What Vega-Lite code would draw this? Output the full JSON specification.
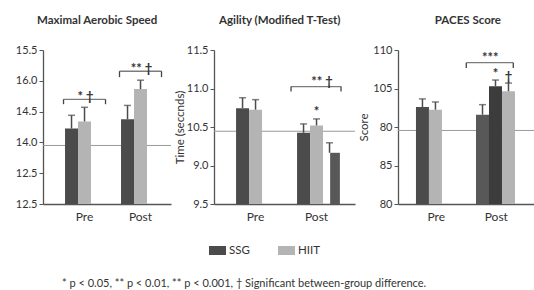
{
  "$schema": "https://vega.github.io/schema/vega-lite/v6.json",
  "background": "white",
  "padding": {"left": 15, "top": 14, "right": 2, "bottom": 2},
  "config": {
    "font": "Lato",
    "view": {"stroke": null},
    "axis": {"labelFont": "Lato", "labelFontSize": 11, "labelColor": "#333", "domainColor": "#555", "tickColor": "#555", "titleFont": "Lato", "titleFontWeight": "normal", "titleFontSize": 11.5, "titleColor": "#333", "grid": false, "labelOverlap": false},
    "title": {"font": "Lato", "fontSize": 11.5, "fontWeight": "bold", "color": "#333"},
    "concat": {"spacing": 2}
  },
  "title": {"text": "* p < 0.05, ** p < 0.01, ** p < 0.001, † Significant between-group difference.", "orient": "bottom", "anchor": "start", "frame": "group", "dx": 19, "fontWeight": "normal", "fontSize": 11, "color": "#333", "offset": 22},
  "datasets": {
    "mas": [
      {"phase": "Pre", "group": "SSG", "order": 1, "mean": 2.45, "upper": 2.88},
      {"phase": "Pre", "group": "HIIT", "order": 2, "mean": 2.68, "upper": 3.14},
      {"phase": "Post", "group": "SSG", "order": 1, "mean": 2.75, "upper": 3.20},
      {"phase": "Post", "group": "HIIT", "order": 2, "mean": 3.73, "upper": 4.02}
    ],
    "mas_ref": [{"value": 1.90}],
    "mas_brk": [
      {"phase": "Pre", "top": 3.40, "bottom": 3.24, "label": "* †"},
      {"phase": "Post", "top": 4.31, "bottom": 4.12, "label": "** †"}
    ],
    "agi": [
      {"phase": "Pre", "group": "SSG", "order": 1, "mean": 2.49, "upper": 2.76},
      {"phase": "Pre", "group": "HIIT", "order": 2, "mean": 2.45, "upper": 2.71},
      {"phase": "Post", "group": "SSG", "order": 1, "mean": 1.85, "upper": 2.08},
      {"phase": "Post", "group": "HIIT", "order": 2, "mean": 2.04, "upper": 2.21, "note": "*"},
      {"phase": "Post", "group": "SSG b", "order": 3, "mean": 1.33, "upper": 1.59}
    ],
    "agi_ref": [{"value": 1.89}],
    "agi_brk": [
      {"phase": "Post", "top": 3.05, "bottom": 2.92, "label": "** †"}
    ],
    "pac": [
      {"phase": "Pre", "group": "SSG", "order": 1, "mean": 2.52, "upper": 2.73},
      {"phase": "Pre", "group": "HIIT", "order": 2, "mean": 2.45, "upper": 2.65},
      {"phase": "Post", "group": "SSG b", "order": 1, "mean": 2.32, "upper": 2.58},
      {"phase": "Post", "group": "SSG c", "order": 2, "mean": 3.06, "upper": 3.22, "note": "*"},
      {"phase": "Post", "group": "HIIT", "order": 3, "mean": 2.93, "upper": 3.14, "note": "†"}
    ],
    "pac_ref": [{"value": 1.91}],
    "pac_brk": [
      {"phase": "Post", "top": 3.67, "bottom": 3.53, "label": "***"}
    ]
  },
  "hconcat": [
    {
      "width": 128, "height": 154,
      "title": {"text": "Maximal Aerobic Speed", "anchor": "start", "frame": "group", "dx": -6, "offset": 18},
      "encoding": {
        "x": {"field": "phase", "type": "nominal", "title": null,
          "scale": {"domain": ["Pre", "Post"], "paddingInner": 0.304, "paddingOuter": 0.295, "align": 0.667},
          "axis": {"ticks": false, "labelAngle": 0, "labelFontSize": 12, "labelPadding": 7, "domainWidth": 1.5}}
      },
      "layer": [
        {"data": {"name": "mas_ref"}, "mark": {"type": "rule", "color": "#9a9a9a", "strokeWidth": 1},
         "encoding": {"x": null, "y": {"field": "value", "type": "quantitative", "title": null,
             "scale": {"domain": [0, 5], "nice": false, "zero": true},
             "axis": {"values": [0, 1, 2, 3, 4, 5], "labelExpr": "['12.5','12.5','14.0','14.5','16.0','15.5'][datum.value]", "tickSize": 4, "domainWidth": 1.3, "labelPadding": 2}}}},
        {"data": {"name": "mas"}, "mark": {"type": "bar"},
         "encoding": {
           "xOffset": {"field": "order", "type": "nominal", "scale": {"paddingInner": 0, "paddingOuter": 0}},
           "y": {"field": "mean", "type": "quantitative", "title": null, "axis": {"values": [0, 1, 2, 3, 4, 5], "labelExpr": "['12.5','12.5','14.0','14.5','16.0','15.5'][datum.value]", "tickSize": 4, "domainWidth": 1.3, "labelPadding": 2}},
           "color": {"field": "group", "type": "nominal",
             "scale": {"domain": ["SSG", "HIIT", "SSG b", "SSG c"], "range": ["#4b4b4b", "#b4b4b4", "#585858", "#3c3c3c"]},
             "legend": {"orient": "none", "legendX": 166, "legendY": 192, "direction": "horizontal", "values": ["SSG", "HIIT"], "title": null, "symbolType": "M-1,-0.53H1V0.53H-1Z", "symbolSize": 289, "symbolStrokeWidth": 0, "symbolOpacity": 1, "labelFontSize": 11.5, "labelColor": "#333", "columnPadding": 28, "labelOffset": 3}}
         }},
        {"data": {"name": "mas"}, "mark": {"type": "rule", "color": "#4b4b4b", "strokeWidth": 1.5},
         "encoding": {"xOffset": {"field": "order", "type": "nominal"}, "y": {"field": "mean", "type": "quantitative", "title": null, "axis": {"values": [0, 1, 2, 3, 4, 5], "labelExpr": "['12.5','12.5','14.0','14.5','16.0','15.5'][datum.value]", "tickSize": 4, "domainWidth": 1.3, "labelPadding": 2}}, "y2": {"field": "upper"}}},
        {"data": {"name": "mas"}, "mark": {"type": "tick", "color": "#4b4b4b", "size": 7, "thickness": 1.5},
         "encoding": {"xOffset": {"field": "order", "type": "nominal"}, "y": {"field": "upper", "type": "quantitative", "title": null, "axis": {"values": [0, 1, 2, 3, 4, 5], "labelExpr": "['12.5','12.5','14.0','14.5','16.0','15.5'][datum.value]", "tickSize": 4, "domainWidth": 1.3, "labelPadding": 2}}}},
        {"data": {"name": "mas_brk"}, "mark": {"type": "tick", "color": "#444", "size": 42, "thickness": 1.3},
         "encoding": {"y": {"field": "top", "type": "quantitative", "title": null, "axis": {"values": [0, 1, 2, 3, 4, 5], "labelExpr": "['12.5','12.5','14.0','14.5','16.0','15.5'][datum.value]", "tickSize": 4, "domainWidth": 1.3, "labelPadding": 2}}}},
        {"data": {"name": "mas_brk"}, "mark": {"type": "rule", "color": "#444", "strokeWidth": 1.3, "xOffset": -21},
         "encoding": {"y": {"field": "top", "type": "quantitative", "title": null, "axis": {"values": [0, 1, 2, 3, 4, 5], "labelExpr": "['12.5','12.5','14.0','14.5','16.0','15.5'][datum.value]", "tickSize": 4, "domainWidth": 1.3, "labelPadding": 2}}, "y2": {"field": "bottom"}}},
        {"data": {"name": "mas_brk"}, "mark": {"type": "rule", "color": "#444", "strokeWidth": 1.3, "xOffset": 21},
         "encoding": {"y": {"field": "top", "type": "quantitative", "title": null, "axis": {"values": [0, 1, 2, 3, 4, 5], "labelExpr": "['12.5','12.5','14.0','14.5','16.0','15.5'][datum.value]", "tickSize": 4, "domainWidth": 1.3, "labelPadding": 2}}, "y2": {"field": "bottom"}}},
        {"data": {"name": "mas_brk"}, "mark": {"type": "text", "fontSize": 13, "fontWeight": "bold", "color": "#333", "baseline": "middle", "dy": -2, "dx": 1},
         "encoding": {"y": {"field": "top", "type": "quantitative", "title": null, "axis": {"values": [0, 1, 2, 3, 4, 5], "labelExpr": "['12.5','12.5','14.0','14.5','16.0','15.5'][datum.value]", "tickSize": 4, "domainWidth": 1.3, "labelPadding": 2}}, "text": {"field": "label"}}}
      ]
    },
    {
      "width": 141, "height": 154,
      "title": {"text": "Agility (Modified T-Test)", "anchor": "start", "frame": "group", "dx": 5, "offset": 18},
      "encoding": {
        "x": {"field": "phase", "type": "nominal", "title": null,
          "scale": {"domain": ["Pre", "Post"], "paddingInner": 0.066, "paddingOuter": 0.189, "align": 0.957},
          "axis": {"ticks": false, "labelAngle": 0, "labelFontSize": 12, "labelPadding": 7, "domainWidth": 1.5, "labelOffset": -9}}
      },
      "layer": [
        {"data": {"name": "agi_ref"}, "mark": {"type": "rule", "color": "#9a9a9a", "strokeWidth": 1},
         "encoding": {"x": null, "y": {"field": "value", "type": "quantitative", "title": "Time (seccnds)",
             "scale": {"domain": [0, 4], "nice": false, "zero": true},
             "axis": {"values": [0, 1, 2, 3, 4], "labelExpr": "['9.5','9.0','10.5','11.0','11.5'][datum.value]", "tickSize": 4, "domainWidth": 1.3, "labelPadding": 2, "titlePadding": 1}}}},
        {"data": {"name": "agi"}, "transform": [{"filter": "datum.order != 3"}], "mark": {"type": "bar"},
         "encoding": {
           "xOffset": {"field": "order", "type": "nominal", "scale": {"domain": [1, 2, 3], "paddingInner": 0, "paddingOuter": 0}},
           "y": {"field": "mean", "type": "quantitative", "title": "Time (seccnds)", "axis": {"values": [0, 1, 2, 3, 4], "labelExpr": "['9.5','9.0','10.5','11.0','11.5'][datum.value]", "tickSize": 4, "domainWidth": 1.3, "labelPadding": 2, "titlePadding": 1}},
           "color": {"field": "group", "type": "nominal",
             "scale": {"domain": ["SSG", "HIIT", "SSG b", "SSG c"], "range": ["#4b4b4b", "#b4b4b4", "#585858", "#3c3c3c"]},
             "legend": {"orient": "none", "legendX": 166, "legendY": 192, "direction": "horizontal", "values": ["SSG", "HIIT"], "title": null, "symbolType": "M-1,-0.53H1V0.53H-1Z", "symbolSize": 289, "symbolStrokeWidth": 0, "symbolOpacity": 1, "labelFontSize": 11.5, "labelColor": "#333", "columnPadding": 28, "labelOffset": 3}}
         }},
        {"data": {"name": "agi"}, "transform": [{"filter": "datum.order == 3"}], "mark": {"type": "bar", "width": {"band": 0.75}},
         "encoding": {
           "xOffset": {"field": "order", "type": "nominal"},
           "y": {"field": "mean", "type": "quantitative", "title": "Time (seccnds)", "axis": {"values": [0, 1, 2, 3, 4], "labelExpr": "['9.5','9.0','10.5','11.0','11.5'][datum.value]", "tickSize": 4, "domainWidth": 1.3, "labelPadding": 2, "titlePadding": 1}},
           "color": {"field": "group", "type": "nominal"}
         }},
        {"data": {"name": "agi"}, "mark": {"type": "rule", "color": "#4b4b4b", "strokeWidth": 1.5},
         "encoding": {"xOffset": {"field": "order", "type": "nominal"}, "y": {"field": "mean", "type": "quantitative", "title": "Time (seccnds)", "axis": {"values": [0, 1, 2, 3, 4], "labelExpr": "['9.5','9.0','10.5','11.0','11.5'][datum.value]", "tickSize": 4, "domainWidth": 1.3, "labelPadding": 2, "titlePadding": 1}}, "y2": {"field": "upper"}}},
        {"data": {"name": "agi"}, "mark": {"type": "tick", "color": "#4b4b4b", "size": 7, "thickness": 1.5},
         "encoding": {"xOffset": {"field": "order", "type": "nominal"}, "y": {"field": "upper", "type": "quantitative", "title": "Time (seccnds)", "axis": {"values": [0, 1, 2, 3, 4], "labelExpr": "['9.5','9.0','10.5','11.0','11.5'][datum.value]", "tickSize": 4, "domainWidth": 1.3, "labelPadding": 2, "titlePadding": 1}}}},
        {"data": {"name": "agi"}, "transform": [{"filter": "datum.note"}], "mark": {"type": "text", "fontSize": 13, "fontWeight": "bold", "color": "#333", "baseline": "middle", "dy": -7},
         "encoding": {"xOffset": {"field": "order", "type": "nominal"}, "y": {"field": "upper", "type": "quantitative", "title": "Time (seccnds)", "axis": {"values": [0, 1, 2, 3, 4], "labelExpr": "['9.5','9.0','10.5','11.0','11.5'][datum.value]", "tickSize": 4, "domainWidth": 1.3, "labelPadding": 2, "titlePadding": 1}}, "text": {"field": "note"}}},
        {"data": {"name": "agi_brk"}, "mark": {"type": "tick", "color": "#444", "size": 50, "thickness": 1.3, "xOffset": -9.5},
         "encoding": {"y": {"field": "top", "type": "quantitative", "title": "Time (seccnds)", "axis": {"values": [0, 1, 2, 3, 4], "labelExpr": "['9.5','9.0','10.5','11.0','11.5'][datum.value]", "tickSize": 4, "domainWidth": 1.3, "labelPadding": 2, "titlePadding": 1}}}},
        {"data": {"name": "agi_brk"}, "mark": {"type": "rule", "color": "#444", "strokeWidth": 1.3, "xOffset": -34.5},
         "encoding": {"y": {"field": "top", "type": "quantitative", "title": "Time (seccnds)", "axis": {"values": [0, 1, 2, 3, 4], "labelExpr": "['9.5','9.0','10.5','11.0','11.5'][datum.value]", "tickSize": 4, "domainWidth": 1.3, "labelPadding": 2, "titlePadding": 1}}, "y2": {"field": "bottom"}}},
        {"data": {"name": "agi_brk"}, "mark": {"type": "rule", "color": "#444", "strokeWidth": 1.3, "xOffset": 15.5},
         "encoding": {"y": {"field": "top", "type": "quantitative", "title": "Time (seccnds)", "axis": {"values": [0, 1, 2, 3, 4], "labelExpr": "['9.5','9.0','10.5','11.0','11.5'][datum.value]", "tickSize": 4, "domainWidth": 1.3, "labelPadding": 2, "titlePadding": 1}}, "y2": {"field": "bottom"}}},
        {"data": {"name": "agi_brk"}, "mark": {"type": "text", "fontSize": 13, "fontWeight": "bold", "color": "#333", "baseline": "middle", "dy": -5, "dx": -3.5},
         "encoding": {"y": {"field": "top", "type": "quantitative", "title": "Time (seccnds)", "axis": {"values": [0, 1, 2, 3, 4], "labelExpr": "['9.5','9.0','10.5','11.0','11.5'][datum.value]", "tickSize": 4, "domainWidth": 1.3, "labelPadding": 2, "titlePadding": 1}}, "text": {"field": "label"}}}
      ]
    },
    {
      "width": 139, "height": 154,
      "title": {"text": "PACES Score", "anchor": "end", "frame": "group", "dx": -36, "offset": 18},
      "encoding": {
        "x": {"field": "phase", "type": "nominal", "title": null,
          "scale": {"domain": ["Pre", "Post"], "paddingInner": 0.125, "paddingOuter": 0.22, "align": 0.68},
          "axis": {"ticks": false, "labelAngle": 0, "labelFontSize": 12, "labelPadding": 7, "domainWidth": 1.5, "labelOffset": -6}}
      },
      "layer": [
        {"data": {"name": "pac_ref"}, "mark": {"type": "rule", "color": "#9a9a9a", "strokeWidth": 1},
         "encoding": {"x": null, "y": {"field": "value", "type": "quantitative", "title": "Score",
             "scale": {"domain": [0, 4], "nice": false, "zero": true},
             "axis": {"values": [0, 1, 2, 3, 4], "labelExpr": "['80','85','80','105','110'][datum.value]", "tickSize": 4, "domainWidth": 1.3, "labelPadding": 2, "titlePadding": 3}}}},
        {"data": {"name": "pac"}, "mark": {"type": "bar"},
         "encoding": {
           "xOffset": {"field": "order", "type": "nominal", "scale": {"domain": [1, 2, 3], "paddingInner": 0, "paddingOuter": 0}},
           "y": {"field": "mean", "type": "quantitative", "title": "Score", "axis": {"values": [0, 1, 2, 3, 4], "labelExpr": "['80','85','80','105','110'][datum.value]", "tickSize": 4, "domainWidth": 1.3, "labelPadding": 2, "titlePadding": 3}},
           "color": {"field": "group", "type": "nominal",
             "scale": {"domain": ["SSG", "HIIT", "SSG b", "SSG c"], "range": ["#4b4b4b", "#b4b4b4", "#585858", "#3c3c3c"]},
             "legend": {"orient": "none", "legendX": 166, "legendY": 192, "direction": "horizontal", "values": ["SSG", "HIIT"], "title": null, "symbolType": "M-1,-0.53H1V0.53H-1Z", "symbolSize": 289, "symbolStrokeWidth": 0, "symbolOpacity": 1, "labelFontSize": 11.5, "labelColor": "#333", "columnPadding": 28, "labelOffset": 3}}
         }},
        {"data": {"name": "pac"}, "mark": {"type": "rule", "color": "#4b4b4b", "strokeWidth": 1.5},
         "encoding": {"xOffset": {"field": "order", "type": "nominal"}, "y": {"field": "mean", "type": "quantitative", "title": "Score", "axis": {"values": [0, 1, 2, 3, 4], "labelExpr": "['80','85','80','105','110'][datum.value]", "tickSize": 4, "domainWidth": 1.3, "labelPadding": 2, "titlePadding": 3}}, "y2": {"field": "upper"}}},
        {"data": {"name": "pac"}, "mark": {"type": "tick", "color": "#4b4b4b", "size": 7, "thickness": 1.5},
         "encoding": {"xOffset": {"field": "order", "type": "nominal"}, "y": {"field": "upper", "type": "quantitative", "title": "Score", "axis": {"values": [0, 1, 2, 3, 4], "labelExpr": "['80','85','80','105','110'][datum.value]", "tickSize": 4, "domainWidth": 1.3, "labelPadding": 2, "titlePadding": 3}}}},
        {"data": {"name": "pac"}, "transform": [{"filter": "datum.note"}], "mark": {"type": "text", "fontSize": 13, "fontWeight": "bold", "color": "#333", "baseline": "middle", "dy": -6},
         "encoding": {"xOffset": {"field": "order", "type": "nominal"}, "y": {"field": "upper", "type": "quantitative", "title": "Score", "axis": {"values": [0, 1, 2, 3, 4], "labelExpr": "['80','85','80','105','110'][datum.value]", "tickSize": 4, "domainWidth": 1.3, "labelPadding": 2, "titlePadding": 3}}, "text": {"field": "note"}}},
        {"data": {"name": "pac_brk"}, "mark": {"type": "tick", "color": "#444", "size": 47, "thickness": 1.3, "xOffset": -12.5},
         "encoding": {"y": {"field": "top", "type": "quantitative", "title": "Score", "axis": {"values": [0, 1, 2, 3, 4], "labelExpr": "['80','85','80','105','110'][datum.value]", "tickSize": 4, "domainWidth": 1.3, "labelPadding": 2, "titlePadding": 3}}}},
        {"data": {"name": "pac_brk"}, "mark": {"type": "rule", "color": "#444", "strokeWidth": 1.3, "xOffset": -36},
         "encoding": {"y": {"field": "top", "type": "quantitative", "title": "Score", "axis": {"values": [0, 1, 2, 3, 4], "labelExpr": "['80','85','80','105','110'][datum.value]", "tickSize": 4, "domainWidth": 1.3, "labelPadding": 2, "titlePadding": 3}}, "y2": {"field": "bottom"}}},
        {"data": {"name": "pac_brk"}, "mark": {"type": "rule", "color": "#444", "strokeWidth": 1.3, "xOffset": 11},
         "encoding": {"y": {"field": "top", "type": "quantitative", "title": "Score", "axis": {"values": [0, 1, 2, 3, 4], "labelExpr": "['80','85','80','105','110'][datum.value]", "tickSize": 4, "domainWidth": 1.3, "labelPadding": 2, "titlePadding": 3}}, "y2": {"field": "bottom"}}},
        {"data": {"name": "pac_brk"}, "mark": {"type": "text", "fontSize": 13, "fontWeight": "bold", "color": "#333", "baseline": "middle", "dy": -5, "dx": -12},
         "encoding": {"y": {"field": "top", "type": "quantitative", "title": "Score", "axis": {"values": [0, 1, 2, 3, 4], "labelExpr": "['80','85','80','105','110'][datum.value]", "tickSize": 4, "domainWidth": 1.3, "labelPadding": 2, "titlePadding": 3}}, "text": {"field": "label"}}}
      ]
    }
  ]
}
